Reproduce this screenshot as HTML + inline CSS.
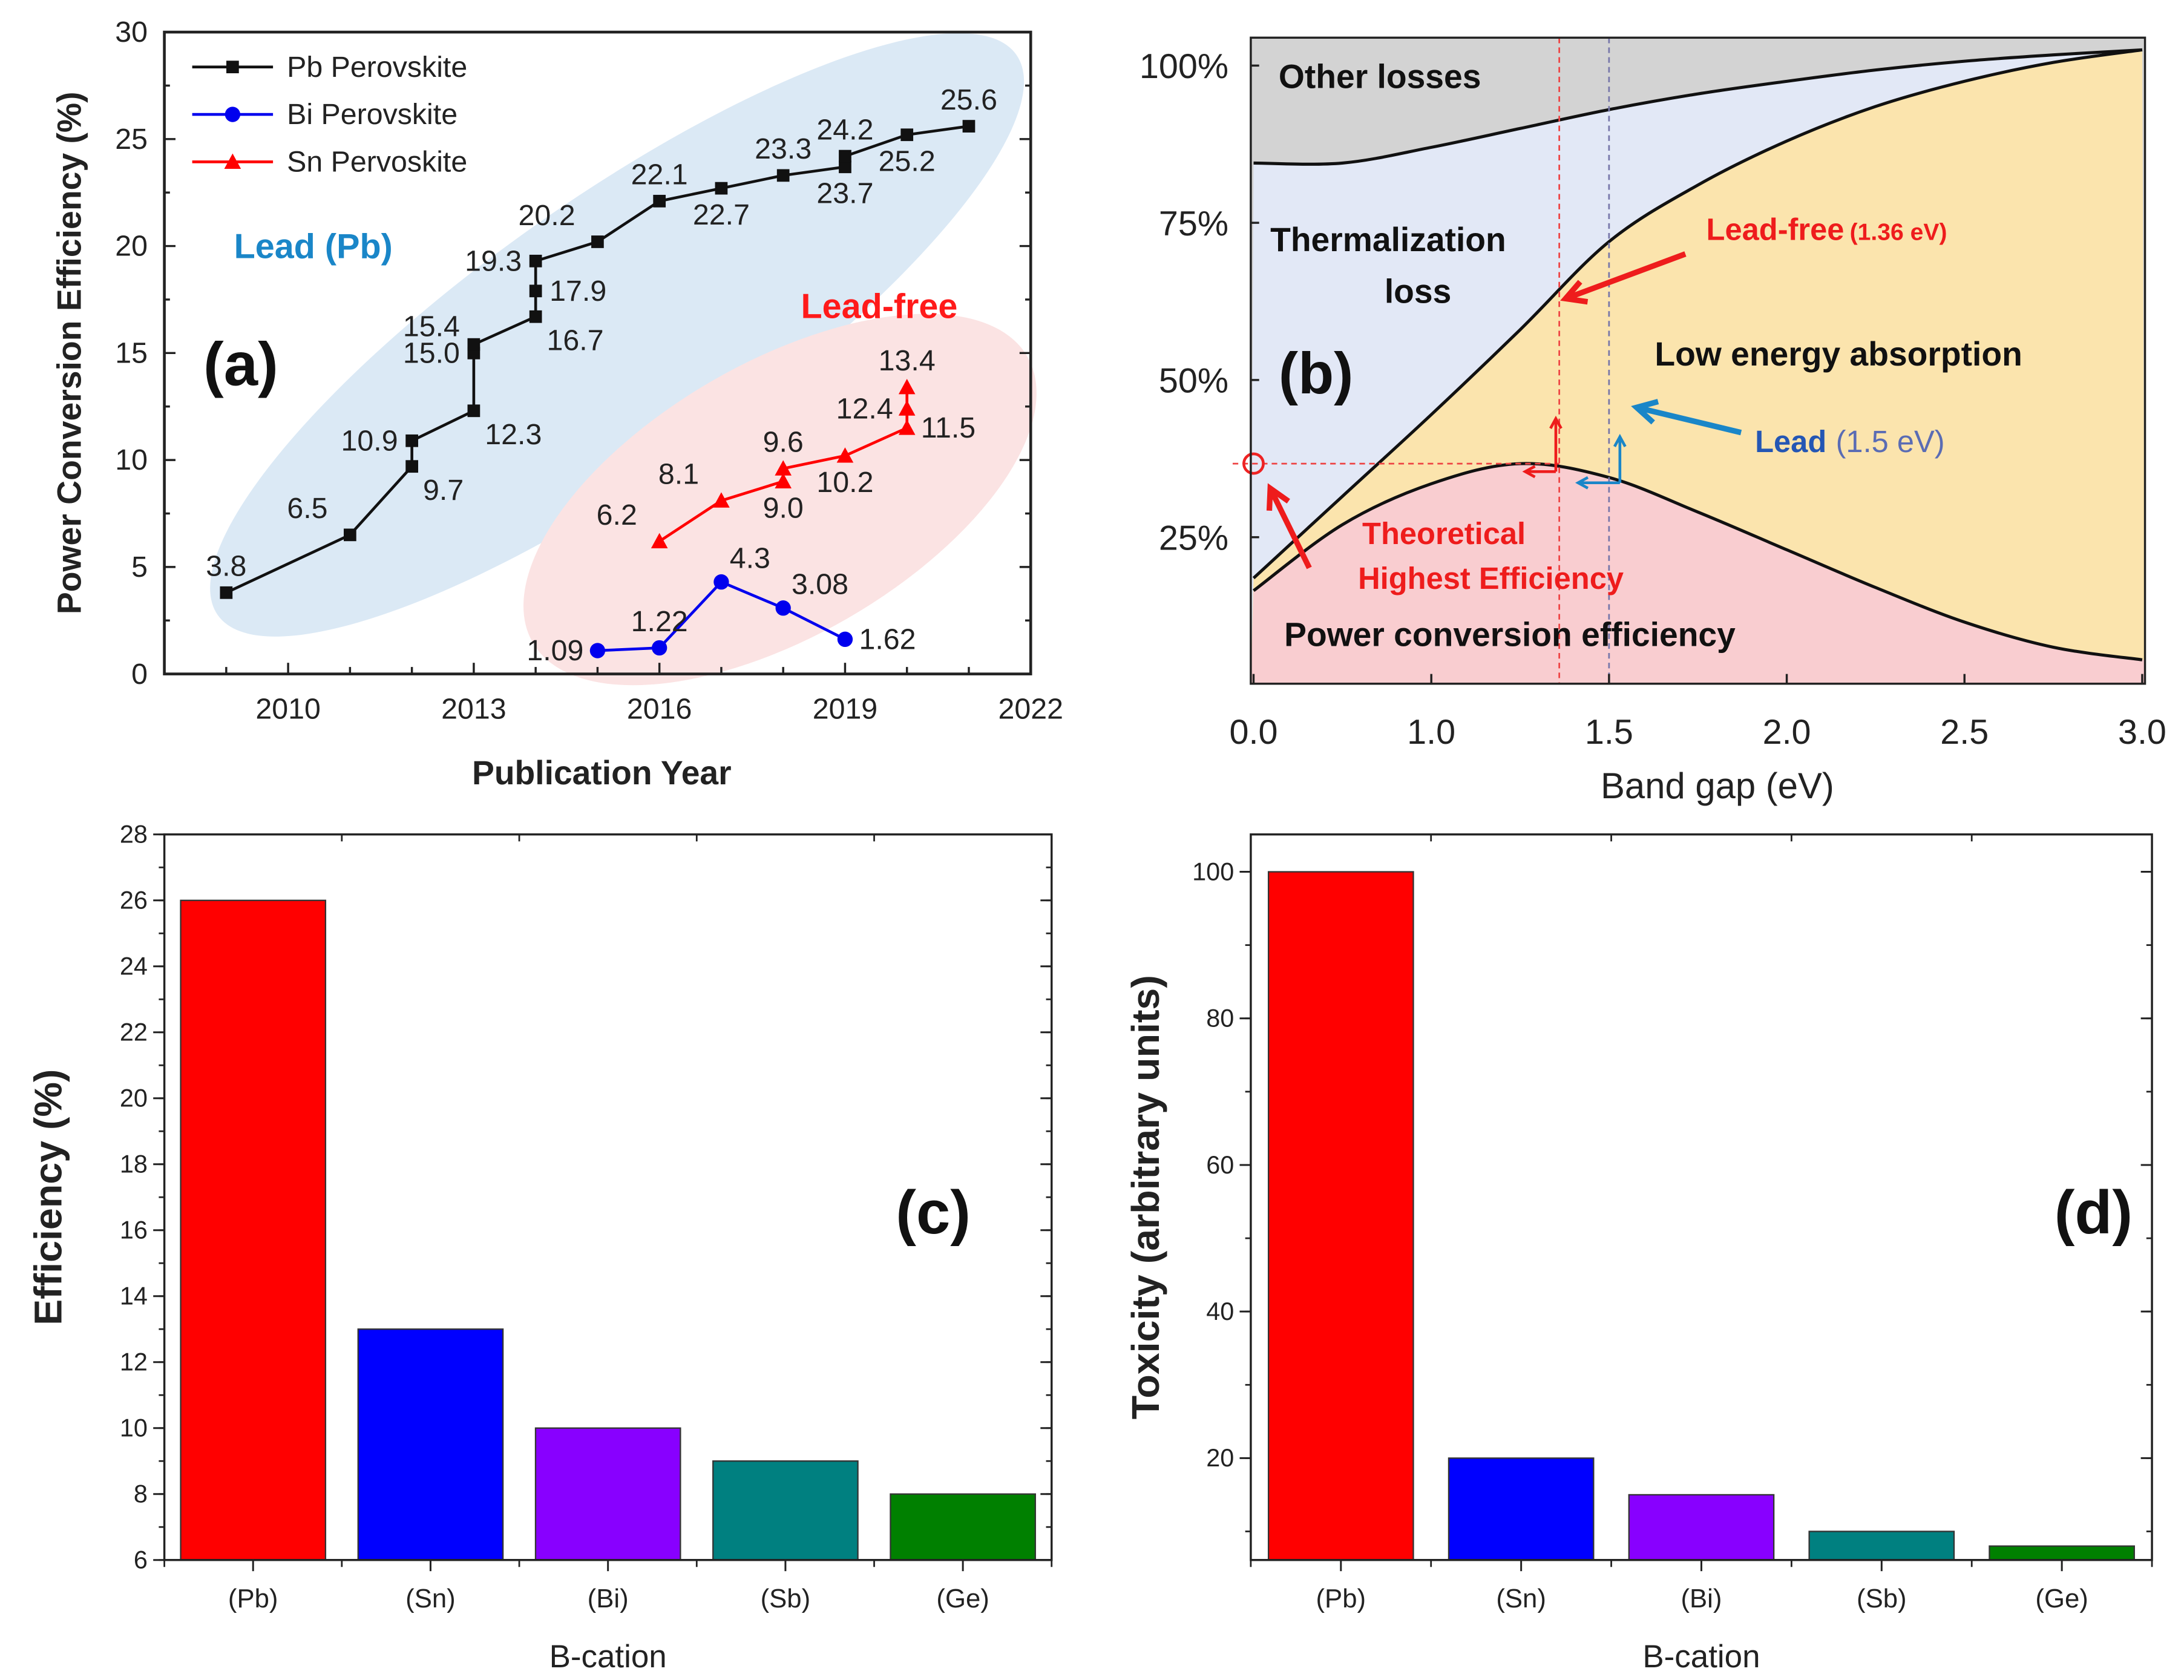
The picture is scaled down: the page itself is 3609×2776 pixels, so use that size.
<!DOCTYPE html>
<html><head><meta charset="utf-8"><style>
html,body{margin:0;padding:0;background:#fff;}
svg{display:block;font-family:"Liberation Sans",sans-serif;}
</style></head><body>
<svg id="fig" width="3609" height="2776" viewBox="0 0 1568 1204" preserveAspectRatio="none" xmlns="http://www.w3.org/2000/svg"></svg>
<script>
// ---------- Panel (a) data ----------
const pbYears=[2009,2011,2012,2012,2013,2013,2013,2014,2014,2014,2015,2016,2017,2018,2019,2019,2020,2021];
const pbValues=[3.8,6.5,9.7,10.9,12.3,15.0,15.4,16.7,17.9,19.3,20.2,22.1,22.7,23.3,23.7,24.2,25.2,25.6];
const pbLabels=["3.8","6.5","9.7","10.9","12.3","15.0","15.4","16.7","17.9","19.3","20.2","22.1","22.7","23.3","23.7","24.2","25.2","25.6"];
const pbLabelSide=["a","al","br","l","br","l","lu","br","r","l","al","a","b","a","b","a","b","a"];
const snYears=[2016,2017,2018,2018,2019,2020,2020,2020];
const snValues=[6.2,8.1,9.0,9.6,10.2,11.5,12.4,13.4];
const snLabels=["6.2","8.1","9.0","9.6","10.2","11.5","12.4","13.4"];
const snLabelSide=["al","al","b","a","b","r","l","a"];
const biYears=[2015,2016,2017,2018,2019];
const biValues=[1.09,1.22,4.3,3.08,1.62];
const biLabels=["1.09","1.22","4.3","3.08","1.62"];
const biLabelSide=["l","a","ar","ar","r"];
const aYTicks=[0,5,10,15,20,25,30];
const aXTicks=[2010,2013,2016,2019,2022];
// ---------- Panel (b) data ----------
const bandgap=[0.5,0.75,1.0,1.25,1.5,1.75,2.0,2.25,2.5,2.75,3.0];
const pceCurve=[16.5,27,33.5,36.7,34.5,29,23,17,11.5,7.5,5.5];
const thermalCurve=[18.5,31.5,44.5,58,72,81,88,93.5,97.5,100.5,102.5];
const otherCurve=[84.5,84.5,87,90,93,95.5,97.5,99.3,100.7,101.7,102.5];
const bXTickVals=[0.5,1.0,1.5,2.0,2.5,3.0];
const bXTickLabels=["0.0","1.0","1.5","2.0","2.5","3.0"];
const bYTicks=[25,50,75,100];
// ---------- Panel (c)/(d) data ----------
const cations=["(Pb)","(Sn)","(Bi)","(Sb)","(Ge)"];
const efficiency=[26,13,10,9,8];
const toxicity=[100,20,15,10,8];
const barColors=["#ff0000","#0000ff","#8800ff","#008080","#008000"];
const cYTicks=[6,8,10,12,14,16,18,20,22,24,26,28];
const dYTicks=[20,40,60,80,100];

const NS="http://www.w3.org/2000/svg";
const svg=document.getElementById('fig');
function mk(tag,attrs,parent){const e=document.createElementNS(NS,tag);for(const k in attrs)e.setAttribute(k,attrs[k]);(parent||svg).appendChild(e);return e;}
function txt(s,attrs,parent){const e=mk('text',attrs,parent);e.textContent=s;return e;}
function lin(d0,d1,r0,r1){return v=>r0+(v-d0)/(d1-d0)*(r1-r0);}

// ================= Panel A =================
const gA=mk('g',{});


const ax=lin(2008,2022,118,740), ay=lin(0,30,483,23);
let e;
e=mk('ellipse',{cx:443,cy:240,rx:350,ry:98,transform:'rotate(-35 443 240)',fill:'#dbe9f5'},gA);


e=mk('ellipse',{cx:560,cy:358,rx:205,ry:98,transform:'rotate(-30 560 358)',fill:'#fbe3e3'},gA);


e=mk('rect',{x:118,y:23,width:622,height:460,fill:'none',stroke:'#222','stroke-width':2},gA);


for(let v=0;v<=30;v+=2.5){const major=v%5===0;const y=ay(v);
 e=mk('line',{x1:118,x2:118+(major?8:4),y1:y,y2:y,stroke:'#222','stroke-width':1.5},gA);
 
 
 e=mk('line',{x1:740,x2:740-(major?8:4),y1:y,y2:y,stroke:'#222','stroke-width':1.5},gA);
 
 }
for(let yv=2009;yv<=2021;yv++){const x=ax(yv);const major=(yv-2010)%3===0;
 e=mk('line',{x1:x,x2:x,y1:483,y2:483-(major?8:5),stroke:'#222','stroke-width':1.5},gA);
 
 }
aYTicks.forEach(v=>{e=txt(String(v),{x:106,y:ay(v)+7,'text-anchor':'end','font-size':21,fill:'#222'},gA);
 
 });
aXTicks.forEach(v=>{e=txt(String(v),{x:ax(v),y:515,'text-anchor':'middle','font-size':21,fill:'#222'},gA);
 
 });
e=txt('Power Conversion Efficiency (%)',{x:0,y:0,transform:'translate(58 253) rotate(-90)','text-anchor':'middle','font-size':24,'font-weight':'bold',fill:'#222'},gA);


e=txt('Publication Year',{x:432,y:562,'text-anchor':'middle','font-size':24,'font-weight':'bold',fill:'#222'},gA);


function marker(kind,x,y,c,g,s){
 if(kind==='sq')return mk('rect',{x:x-4.5,y:y-4.5,width:9,height:9,fill:c},g);
 if(kind==='ci')return mk('circle',{cx:x,cy:y,r:5.5,fill:c},g);
 return mk('polygon',{points:`${x},${y-6} ${x-6},${y+5} ${x+6},${y+5}`,fill:c},g);}
function labelPos(side,x,y){const m={al:[-16,-12,'end'],a:[0,-12,'middle'],b:[0,26,'middle'],l:[-10,7,'end'],lu:[-10,-6,'end'],r:[10,7,'start'],br:[8,24,'start'],ar:[6,-10,'start']}[side];return [x+m[0],y+m[1],m[2]];}
function series(name,years,vals,labels,sides,color,kind){
 const g=mk('g',{},gA);
 
 
 e=mk('polyline',{points:years.map((yr,i)=>ax(yr)+','+ay(vals[i])).join(' '),fill:'none',stroke:color,'stroke-width':2},g);
 
 
 years.forEach((yr,i)=>{const x=ax(yr),y=ay(vals[i]);
  e=marker(kind,x,y,color,g);
  
  
  const p=labelPos(sides[i],x,y);
  e=txt(labels[i],{x:p[0],y:p[1],'text-anchor':p[2],'font-size':21,fill:'#222'},g);
  
  });}
series('pb-series',pbYears,pbValues,pbLabels,pbLabelSide,'#111','sq');
series('sn-series',snYears,snValues,snLabels,snLabelSide,'#ff0000','tr');
series('bi-series',biYears,biValues,biLabels,biLabelSide,'#0000ee','ci');
[['Pb Perovskite','#111','sq',48],['Bi  Perovskite','#0000ee','ci',82],['Sn Pervoskite','#ff0000','tr',116]].forEach(L=>{
 const g=mk('g',{},gA);
 
 
 mk('line',{x1:138,x2:196,y1:L[3],y2:L[3],stroke:L[1],'stroke-width':2},g);
 marker(L[2],167,L[3],L[1],g);
 txt(L[0],{x:206,y:L[3]+7,'font-size':21,fill:'#222','xml:space':'preserve'},g);});
e=txt('Lead (Pb)',{x:168,y:185,'font-size':25,'font-weight':'bold',fill:'#1a86c8'},gA);


e=txt('Lead-free',{x:575,y:228,'font-size':25,'font-weight':'bold',fill:'#ff1a1a'},gA);


e=txt('(a)',{x:146,y:276,'font-size':44,'font-weight':'bold',fill:'#111'},gA);



// ================= Panel B =================
const gB=mk('g',{});


const bx=lin(0.5,3.0,900,1538), by=lin(25,100,385,47);
const L0=898,R0=1540,T0=27,B0=490;
function pts(arr){return bandgap.map((g,i)=>[bx(g),by(arr[i])]);}
function smooth(p){let d='M'+p[0][0]+','+p[0][1];for(let i=0;i<p.length-1;i++){const p0=p[Math.max(i-1,0)],p1=p[i],p2=p[i+1],p3=p[Math.min(i+2,p.length-1)];
 d+=` C${p1[0]+(p2[0]-p0[0])/6},${p1[1]+(p2[1]-p0[1])/6} ${p2[0]-(p3[0]-p1[0])/6},${p2[1]-(p3[1]-p1[1])/6} ${p2[0]},${p2[1]}`;}return d;}
const pP=pts(pceCurve),pT=pts(thermalCurve),pO=pts(otherCurve);
mk('rect',{x:L0,y:T0,width:R0-L0,height:B0-T0,fill:'#d3d3d3'},gB);
e=mk('path',{d:smooth(pO)+` L${R0},${B0} L${L0},${B0} Z`,fill:'#e2e8f6'},gB);


e=mk('path',{d:smooth(pT)+` L${R0},${B0} L${L0},${B0} Z`,fill:'#fbe4ad'},gB);


e=mk('path',{d:smooth(pP)+` L${R0},${pP[pP.length-1][1]} L${R0},${B0} L${L0},${B0} Z`,fill:'#f9cdd0'},gB);


[['other-losses-curve',pO],['thermalization-curve',pT],['pce-curve',pP]].forEach(c=>{
 e=mk('path',{d:smooth(c[1]),fill:'none',stroke:'#111','stroke-width':2.2},gB);
 
 });
e=mk('line',{x1:bx(1.36),x2:bx(1.36),y1:T0,y2:B0,stroke:'#e44','stroke-width':1.2,'stroke-dasharray':'4 3'},gB);


e=mk('line',{x1:bx(1.5),x2:bx(1.5),y1:T0,y2:B0,stroke:'#77a','stroke-width':1.2,'stroke-dasharray':'4 3'},gB);


e=mk('line',{x1:885,x2:bx(1.36),y1:by(36.7),y2:by(36.7),stroke:'#e44','stroke-width':1.2,'stroke-dasharray':'4 3'},gB);


e=mk('circle',{cx:900,cy:by(36.7),r:7,fill:'none',stroke:'#e22','stroke-width':2},gB);


mk('rect',{x:L0,y:T0,width:R0-L0,height:B0-T0,fill:'none',stroke:'#222','stroke-width':1.5},gB);
bXTickVals.forEach((v,i)=>{e=mk('line',{x1:bx(v),x2:bx(v),y1:B0,y2:B0-7,stroke:'#222','stroke-width':1.5},gB);
 
 
 e=txt(bXTickLabels[i],{x:bx(v),y:533,'text-anchor':'middle','font-size':25,fill:'#222'},gB);
 
 });
bYTicks.forEach(v=>{e=mk('line',{x1:L0,x2:L0+6,y1:by(v),y2:by(v),stroke:'#222','stroke-width':1.5},gB);
 
 
 e=txt(v+'%',{x:882,y:by(v)+9,'text-anchor':'end','font-size':25,fill:'#222'},gB);
 
 });
e=txt('Band gap (eV)',{x:1233,y:572,'text-anchor':'middle','font-size':26,fill:'#222'},gB);


function arrow(x1,y1,x2,y2,c,w,name){const g=mk('g',{},gB);
 
 
 mk('line',{x1,y1,x2,y2,stroke:c,'stroke-width':w},g);
 const a=Math.atan2(y2-y1,x2-x1),h=4*w;
 mk('polyline',{points:`${x2-h*Math.cos(a-0.5)},${y2-h*Math.sin(a-0.5)} ${x2},${y2} ${x2-h*Math.cos(a+0.5)},${y2-h*Math.sin(a+0.5)}`,fill:'none',stroke:c,'stroke-width':w},g);}
arrow(1210,182,1124,214,'#ee1c1c',4,'lead-free-arrow');
arrow(1250,310,1175,292,'#1a86c8',4,'lead-arrow');
arrow(940,407,912,350,'#ee1c1c',4,'theoretical-arrow');
arrow(1117,338,1117,300,'#ee1c1c',2,'red-up-arrow');
arrow(1117,338,1095,338,'#ee1c1c',2,'red-left-arrow');
arrow(1163,346,1163,313,'#1a86c8',2,'blue-up-arrow');
arrow(1163,346,1133,346,'#1a86c8',2,'blue-left-arrow');
const bt=[['Other losses',918,63,24,'bold','#111','start'],['Thermalization',912,180,24,'bold','#111','start'],['loss',1018,217,24,'bold','#111','middle'],
['Low energy absorption',1188,262,24,'bold','#111','start'],['Theoretical',978,390,22,'bold','#ee1c1c','start'],['Highest Efficiency',975,422,22,'bold','#ee1c1c','start'],
['Power conversion efficiency',922,463,24,'bold','#111','start']];
bt.forEach(t=>{e=txt(t[0],{x:t[1],y:t[2],'font-size':t[3],'font-weight':t[4],fill:t[5],'text-anchor':t[6]},gB);
 
 });
e=txt('Lead-free ',{x:1225,y:172,'font-size':22,'font-weight':'bold',fill:'#ee1c1c'},gB);


e=txt('(1.36 eV)',{x:1328,y:172,'font-size':17,'font-weight':'bold',fill:'#ee1c1c'},gB);


e=txt('Lead',{x:1260,y:324,'font-size':22,'font-weight':'bold',fill:'#2456b4'},gB);


e=txt('(1.5 eV)',{x:1318,y:324,'font-size':22,fill:'#5a6cb4'},gB);


e=txt('(b)',{x:918,y:282,'font-size':42,'font-weight':'bold',fill:'#111'},gB);



// ================= Panels C & D =================
function barPanel(name,L,R,T,B,d0,d1,ticks,minorStep,vals,title,label,labelX,titleX){
 const g=mk('g',{});
 
 
 const y=lin(d0,d1,B,T),bw=(R-L)/cations.length;
 vals.forEach((v,i)=>{const cx=L+bw*(i+0.5);
  e=mk('rect',{x:cx-52,y:y(v),width:104,height:B-y(v),fill:barColors[i],stroke:'#333','stroke-width':1},g);
  
  
  e=mk('line',{x1:cx,x2:cx,y1:B,y2:B+8,stroke:'#222','stroke-width':1.3},g);
  
  
  e=txt(cations[i],{x:cx,y:B+34,'text-anchor':'middle','font-size':19,fill:'#222'},g);
  
  });
 for(let i=0;i<=cations.length;i++){const x=L+bw*i;
  mk('line',{x1:x,x2:x,y1:B,y2:B+5,stroke:'#222','stroke-width':1.2},g);
  mk('line',{x1:x,x2:x,y1:T,y2:T+5,stroke:'#222','stroke-width':1.2},g);}
 mk('rect',{x:L,y:T,width:R-L,height:B-T,fill:'none',stroke:'#222','stroke-width':1.5},g);
 for(let v=Math.ceil(d0/minorStep)*minorStep;v<=d1;v+=minorStep){
  mk('line',{x1:L,x2:L-4,y1:y(v),y2:y(v),stroke:'#222','stroke-width':1.2},g);
  mk('line',{x1:R,x2:R-4,y1:y(v),y2:y(v),stroke:'#222','stroke-width':1.2},g);}
 ticks.forEach(v=>{
  mk('line',{x1:L,x2:L-8,y1:y(v),y2:y(v),stroke:'#222','stroke-width':1.3},g);
  mk('line',{x1:R,x2:R-8,y1:y(v),y2:y(v),stroke:'#222','stroke-width':1.3},g);
  e=txt(String(v),{x:L-12,y:y(v)+6,'text-anchor':'end','font-size':18,fill:'#222'},g);
  
  });
 e=txt('B-cation',{x:(L+R)/2,y:1195,'text-anchor':'middle','font-size':23,fill:'#222'},g);
 
 
 e=txt(title,{x:0,y:0,transform:`translate(${titleX} ${(T+B)/2}) rotate(-90)`,'text-anchor':'middle','font-size':28,'font-weight':'bold',fill:'#222'},g);
 
 
 e=txt(label,{x:labelX,y:884,'text-anchor':'middle','font-size':44,'font-weight':'bold',fill:'#111'},g);
 
 }
barPanel('panel-c',118,755,598,1118,6,28,cYTicks,1,efficiency,'Efficiency (%)','(c)',670,44);
barPanel('panel-d',898,1545,598,1118,6.1,105.1,dYTicks,10,toxicity,'Toxicity (arbitrary units)','(d)',1503,832);
</script>
</body></html>
